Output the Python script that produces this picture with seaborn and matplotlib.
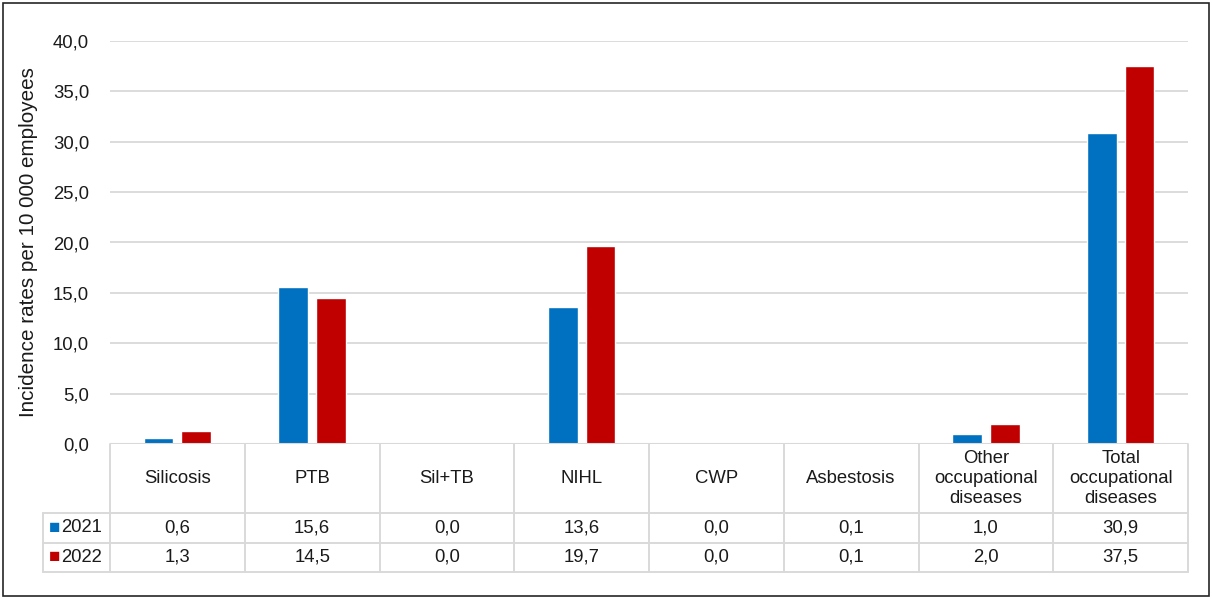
import matplotlib
matplotlib.use("Agg")
import matplotlib.pyplot as plt
import matplotlib.transforms as mtransforms
from matplotlib.patches import Rectangle
import seaborn as sns
import pandas as pd

categories = ["Silicosis", "PTB", "Sil+TB", "NIHL", "CWP", "Asbestosis",
              "Other\noccupational\ndiseases", "Total\noccupational\ndiseases"]
years = ["2021", "2022"]
rates_2021 = [0.6, 15.6, 0.0, 13.6, 0.0, 0.1, 1.0, 30.9]
rates_2022 = [1.3, 14.5, 0.0, 19.7, 0.0, 0.1, 2.0, 37.5]
yticks = [0, 5, 10, 15, 20, 25, 30, 35, 40]
colors = {"2021": "#0070C0", "2022": "#C00000"}

df = pd.DataFrame({
    "category": categories * 2,
    "year": [years[0]] * len(categories) + [years[1]] * len(categories),
    "rate": rates_2021 + rates_2022,
})

sns.set_theme(style="white")
plt.rcParams["font.family"] = ["Liberation Sans", "DejaVu Sans"]

fig = plt.figure(figsize=(12.12, 5.99), dpi=100)
ax = fig.add_axes([110 / 1212, 1 - 444 / 599, 1078 / 1212, 403 / 599])

sns.barplot(data=df, x="category", y="rate", hue="year", order=categories,
            hue_order=years, palette=colors, width=0.56, gap=0.21,
            saturation=1, ax=ax, legend=False)

grid_c = "#D9D9D9"
text_c = "#1a1a1a"
fs = 13.3
ax.set_xlim(-0.5, len(categories) - 0.5)
ax.set_ylim(0, 40)
ax.set_yticks(yticks)
ax.set_yticklabels([f"{v:.1f}".replace(".", ",") for v in yticks],
                   fontsize=fs, color=text_c)
ax.tick_params(axis="y", length=0, pad=15)
ax.set_xticks([])
ax.set_xlabel("")
ax.set_ylabel("Incidence rates per 10 000 employees", fontsize=14.9, color=text_c)
ax.yaxis.set_label_coords(-0.0668, 0.5)
ax.grid(axis="y", color=grid_c, linewidth=1.3)
ax.set_axisbelow(True)
for s in ax.spines.values():
    s.set_visible(False)
ax.axhline(0, color=grid_c, linewidth=1.5, zorder=3)

# data table under the bars
tr = mtransforms.blended_transform_factory(ax.transData, ax.transAxes)
n = len(categories)
row_y = [0.0, -69 / 403, -99 / 403, -128 / 403]
left_x = -0.5 - 67 / 134.75
lk = dict(color=grid_c, linewidth=1.4, transform=tr, clip_on=False)
for yv in row_y[1:]:
    ax.plot([left_x, n - 0.5], [yv, yv], **lk)
for i in range(n + 1):
    ax.plot([i - 0.5, i - 0.5], [row_y[0], row_y[3]], **lk)
ax.plot([left_x, left_x], [row_y[1], row_y[3]], **lk)

for i, cat in enumerate(categories):
    ax.text(i, (row_y[0] + row_y[1]) / 2, cat, transform=tr, ha="center",
            va="center", fontsize=fs, color=text_c, linespacing=1.2)
for r, (yr, vals) in enumerate(zip(years, [rates_2021, rates_2022])):
    yc = (row_y[r + 1] + row_y[r + 2]) / 2
    for i, v in enumerate(vals):
        ax.text(i, yc, f"{v:.1f}".replace(".", ","), transform=tr,
                ha="center", va="center", fontsize=fs, color=text_c)
    ax.text(left_x + 0.04, yc, "\u25A0", transform=tr, ha="left",
            va="center", fontsize=13.5, color=colors[yr])
    ax.text(left_x + 0.135, yc, yr, transform=tr, ha="left", va="center",
            fontsize=fs, color=text_c)

fig.patches.append(Rectangle((3 / 1212, 3 / 599), 1206 / 1212, 593 / 599,
                             transform=fig.transFigure, fill=False,
                             edgecolor="#262626", linewidth=1.2))

fig.savefig("out.png", dpi=100, facecolor="white")
